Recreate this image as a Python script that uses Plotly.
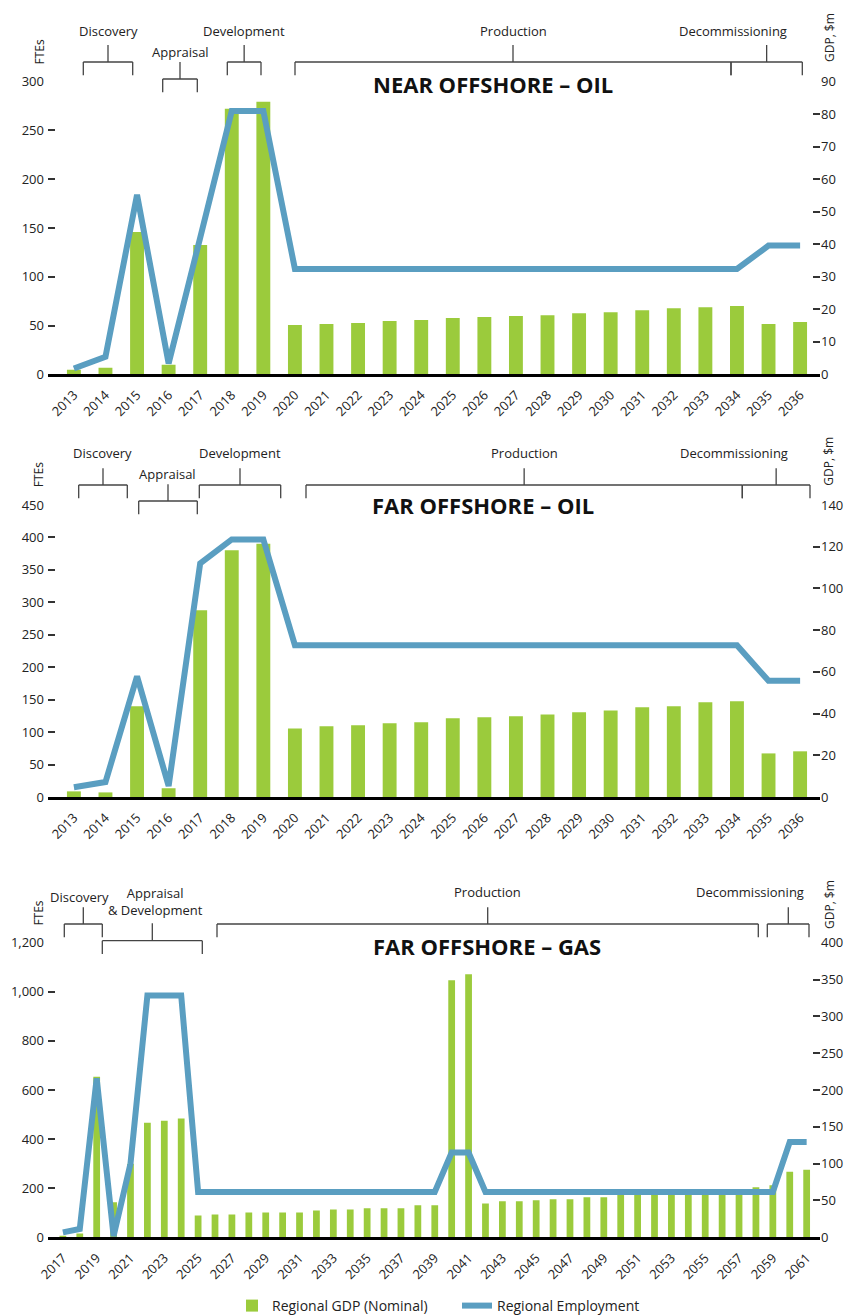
import plotly.graph_objects as go

# Page body has an 8px margin: the figure is sized and offset to fit the 861x1315 window
OFF = 8
W, H = 861 - 2 * OFF, 1315 - OFF

# ---------------- data ----------------
years_oil = ["2013", "2014", "2015", "2016", "2017", "2018", "2019", "2020", "2021", "2022",
             "2023", "2024", "2025", "2026", "2027", "2028", "2029", "2030", "2031", "2032",
             "2033", "2034", "2035", "2036"]

near_gdp = [1.4, 2.0, 43.8, 2.9, 39.8, 81.7, 83.8, 15.2, 15.5, 15.8, 16.4, 16.7,
            17.3, 17.6, 17.9, 18.2, 18.8, 19.1, 19.7, 20.3, 20.6, 21.0, 15.5, 16.1]
near_fte = [6, 18, 184, 11, 140, 270, 270, 108, 108, 108, 108, 108,
            108, 108, 108, 108, 108, 108, 108, 108, 108, 108, 132, 132]

far_oil_gdp = [2.7, 2.2, 43.5, 4.2, 89.5, 118.3, 121.4, 32.9, 33.9, 34.4, 35.3, 35.8,
               37.7, 38.2, 38.7, 39.6, 40.6, 41.5, 43.0, 43.5, 45.4, 45.9, 20.9, 21.9]
far_oil_fte = [15, 23, 186, 17, 360, 397, 397, 234, 234, 234, 234, 234,
               234, 234, 234, 234, 234, 234, 234, 234, 234, 234, 179, 179]

years_gas = ["2017", "2018", "2019", "2020", "2021", "2022", "2023", "2024", "2025", "2026",
             "2027", "2028", "2029", "2030", "2031", "2032", "2033", "2034", "2035", "2036",
             "2037", "2038", "2039", "2040", "2041", "2042", "2043", "2044", "2045", "2046",
             "2047", "2048", "2049", "2050", "2051", "2052", "2053", "2054", "2055", "2056",
             "2057", "2058", "2059", "2060", "2061"]
gas_gdp = [2, 5, 218, 47.5, 100, 155.7, 158.4, 161.2,
           29.7, 31, 31, 33.8, 33.8, 33.8, 33.8, 36.5, 37.9, 37.9, 39.3, 39.3, 39.3, 43.4, 43.4,
           348.9, 357,
           46, 48.9, 48.9, 50.2, 51.6, 51.6, 54.3, 54.3,
           59, 59, 60, 60, 61, 62, 62, 63,
           68, 70.8, 89, 91.8]
gas_fte = [20, 34, 648, 5, 300, 985, 985, 985,
           185, 185, 185, 185, 185, 185, 185, 185, 185, 185, 185, 185, 185, 185, 185,
           345, 345,
           185, 185, 185, 185, 185, 185, 185, 185, 185, 185, 185, 185, 185, 185, 185, 185, 185, 185,
           388, 388]
gas_ticks = years_gas[::2]

oil_fte_ticks = [0, 50, 100, 150, 200, 250, 300]
near_gdp_ticks = [0, 10, 20, 30, 40, 50, 60, 70, 80, 90]
far_fte_ticks = [0, 50, 100, 150, 200, 250, 300, 350, 400, 450]
far_gdp_ticks = [0, 20, 40, 60, 80, 100, 120, 140]
gas_fte_ticks = [0, 200, 400, 600, 800, 1000, 1200]
gas_gdp_ticks = [0, 50, 100, 150, 200, 250, 300, 350, 400]

GREEN = "#9BCB3C"
BLUE = "#5A9EC1"
FONT = "Open Sans"
TXT = "#222222"


def px(x):
    return (x - OFF) / W


def py(y):
    return 1 - (y - OFF) / H


fig = go.Figure()

panels = [
    dict(x="x", yb="y", yl="y2", cats=years_oil, gdp=near_gdp, fte=near_fte, bw=0.44, legend=True),
    dict(x="x2", yb="y3", yl="y4", cats=years_oil, gdp=far_oil_gdp, fte=far_oil_fte, bw=0.44, legend=False),
    dict(x="x3", yb="y5", yl="y6", cats=years_gas, gdp=gas_gdp, fte=gas_fte, bw=0.40, legend=False),
]
for p in panels:
    fig.add_trace(go.Bar(x=p["cats"], y=p["gdp"], xaxis=p["x"], yaxis=p["yb"],
                         marker=dict(color=GREEN, line=dict(width=0)), width=p["bw"],
                         name="Regional GDP (Nominal)", showlegend=p["legend"]))
    fig.add_trace(go.Scatter(x=p["cats"], y=p["fte"], xaxis=p["x"], yaxis=p["yl"], mode="lines",
                             line=dict(color=BLUE, width=6), name="Regional Employment",
                             showlegend=p["legend"]))

xdom = [px(48), px(820)]
tickfont = dict(family=FONT, size=13, color=TXT)


def xaxis(anchor, rng, tickvals=None):
    d = dict(domain=xdom, anchor=anchor, type="category", range=rng, showline=True,
             linecolor="black", linewidth=3, ticks="", tickangle=-45, tickfont=tickfont,
             ticklabelstandoff=5, showgrid=False, zeroline=False, fixedrange=True)
    if tickvals is not None:
        d["tickmode"] = "array"
        d["tickvals"] = tickvals
    return d


def yright(anchor, dom, rng, tv):
    return dict(domain=dom, anchor=anchor, side="right", range=rng, tickmode="array", tickvals=tv,
                ticks="inside", ticklen=7, tickwidth=1.5, tickcolor="#333", showgrid=False,
                zeroline=False, showline=False, tickfont=tickfont, fixedrange=True)


def yleft(anchor, over, rng, tv, fmt=None):
    d = dict(overlaying=over, anchor=anchor, side="left", range=rng, tickmode="array", tickvals=tv,
             ticks="inside", ticklen=7, tickwidth=1.5, tickcolor="#333", showgrid=False,
             zeroline=False, showline=False, tickfont=tickfont, ticklabelstandoff=3,
             fixedrange=True)
    if fmt:
        d["tickformat"] = fmt
    return d


dom1 = [py(374.3), py(81.7)]
dom2 = [py(797), py(505)]
dom3 = [py(1237.3), py(942.7)]

fig.update_layout(
    xaxis=xaxis("y", [-0.82, 23.63]),
    yaxis=yright("x", dom1, [0, 90], near_gdp_ticks),
    yaxis2=yleft("x", "y", [0, 300], oil_fte_ticks),
    xaxis2=xaxis("y3", [-0.82, 23.63]),
    yaxis3=yright("x2", dom2, [0, 140], far_gdp_ticks),
    yaxis4=yleft("x2", "y3", [0, 450], far_fte_ticks),
    xaxis3=xaxis("y5", [-0.88, 44.79], gas_ticks),
    yaxis5=yright("x3", dom3, [0, 400], gas_gdp_ticks),
    yaxis6=yleft("x3", "y5", [0, 1200], gas_fte_ticks, ",d"),
)

shapes = []
annotations = []
LC = "#444444"


def seg(x0, y0, x1, y1):
    shapes.append(dict(type="line", xref="paper", yref="paper", x0=px(x0), y0=py(y0),
                       x1=px(x1), y1=py(y1), line=dict(color=LC, width=1.3)))


def bracket(x0, x1, ybar, yleg, ystem, xstem=None):
    if xstem is None:
        xstem = (x0 + x1) / 2
    seg(x0, ybar, x1, ybar)
    seg(x0, ybar, x0, yleg)
    seg(x1, ybar, x1, yleg)
    seg(xstem, ystem, xstem, ybar)


def label(text, x, y, size=13, bold=False, color="#222", angle=0):
    annotations.append(dict(text=("<b>%s</b>" % text) if bold else text, xref="paper", yref="paper",
                            x=px(x), y=py(y), xanchor="center", yanchor="middle", showarrow=False,
                            textangle=angle, font=dict(family=FONT, size=size, color=color)))


# chart 1 phases
bracket(83.3, 132.7, 62, 75.3, 45)
bracket(162.7, 197.3, 79, 92.3, 62)
bracket(227.3, 261, 62, 75.3, 45)
bracket(295, 731, 62, 75.3, 45)
bracket(731, 802.3, 62, 75.3, 45)
label("Discovery", 108, 30.7)
label("Appraisal", 180, 51.7)
label("Development", 244, 30.7)
label("Production", 513, 30.7)
label("Decommissioning", 733, 30.7)
label("NEAR OFFSHORE – OIL", 493, 84, size=22, bold=True, color="#111")
label("FTEs", 39, 51.5, size=12, angle=-90)
label("GDP, $m", 829, 38, size=12, angle=-90)

# chart 2 phases
bracket(78.7, 127.3, 485, 498.3, 468.3)
bracket(138.7, 197.3, 501, 514.3, 484.3)
bracket(199.3, 280.7, 485, 498.3, 468.3)
bracket(306, 742.3, 485, 498.3, 468.3)
bracket(742.3, 810, 485, 498.3, 468.3)
label("Discovery", 102.7, 453.3)
label("Appraisal", 167.7, 474.3)
label("Development", 240, 453.3)
label("Production", 524, 453.3)
label("Decommissioning", 733.5, 453.3)
label("FAR OFFSHORE – OIL", 483, 505, size=22, bold=True, color="#111")
label("FTEs", 38.3, 475, size=12, angle=-90)
label("GDP, $m", 829, 461.7, size=12, angle=-90)

# chart 3 phases
bracket(64.3, 102.3, 924, 937.3, 907.3, 83.3)
bracket(102.3, 202.3, 940.7, 954, 923.3, 152.3)
bracket(217, 758.3, 924, 937.3, 907.3, 487.7)
bracket(767.3, 809, 924, 937.3, 907.3, 788.3)
label("Discovery", 79, 896.7)
label("Appraisal<br>& Development", 155.5, 901)
label("Production", 487.5, 892.3)
label("Decommissioning", 749.5, 892.3)
label("FAR OFFSHORE – GAS", 487.3, 946, size=22, bold=True, color="#111")
label("FTEs", 38.3, 913.3, size=12, angle=-90)
label("GDP, $m", 829, 905, size=12, angle=-90)

fig.update_layout(
    width=W, height=H,
    margin=dict(l=0, r=0, t=0, b=0, autoexpand=False),
    paper_bgcolor="white", plot_bgcolor="white",
    shapes=shapes, annotations=annotations,
    barmode="overlay",
    legend=dict(orientation="h", x=px(232), xanchor="left", y=py(1306), yanchor="middle",
                font=dict(family=FONT, size=14, color=TXT), itemwidth=30, entrywidth=180,
                bgcolor="rgba(0,0,0,0)"),
    font=dict(family=FONT, color=TXT),
)

fig.write_html("out.html")
